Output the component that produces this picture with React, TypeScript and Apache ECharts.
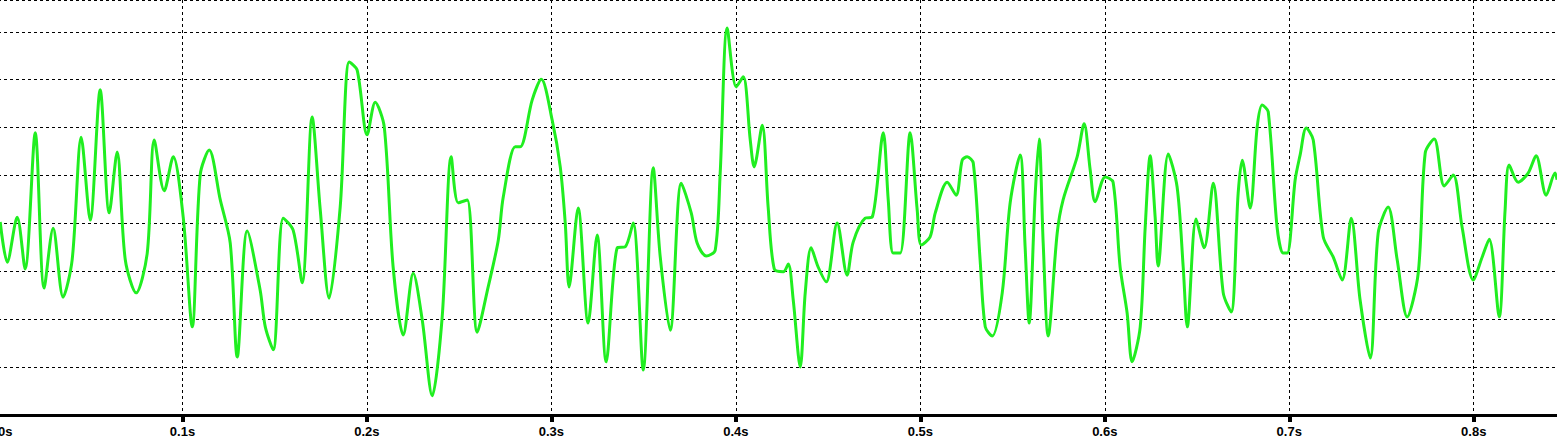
import { useEffect, useRef } from "react";
import * as echarts from "echarts";

// time in milliseconds
const timesMs = [
  1.2, 5.0, 10.4, 14.7, 20.2, 25.0, 29.9, 35.3, 40.2, 45.1,
  50.0, 55.4, 60.3, 64.6, 69.0, 74.9, 80.9, 84.7, 90.1, 95.0,
  100.4, 105.3, 109.6, 114.5, 120.5, 125.9, 129.7, 135.1, 142.1, 144.9,
  149.2, 154.6, 160.0, 164.9, 170.3, 174.7, 179.5, 185.5, 190.4, 194.7,
  200.1, 204.5, 209.4, 214.2, 219.7, 225.1, 230.0, 235.4, 240.8, 245.7,
  249.5, 254.4, 259.8, 265.7, 271.2, 273.9, 280.4, 283.1, 289.6, 294.5,
  300.4, 304.8, 307.5, 309.6, 314.5, 319.9, 324.8, 329.7, 335.7, 340.0,
  344.3, 349.8, 355.2, 359.0, 364.4, 370.4, 375.8, 379.0, 383.9, 388.8,
  391.5, 395.3, 400.2, 404.0, 407.8, 409.9, 414.3, 417.5, 420.8, 425.7,
  428.4, 431.1, 434.9, 437.6, 440.8, 444.6, 449.0, 454.9, 460.3, 463.6,
  470.1, 473.9, 479.9, 482.6, 485.3, 489.1, 494.5, 498.3, 500.5, 505.3,
  508.1, 514.6, 519.4, 522.7, 525.4, 528.7, 532.4, 535.2, 539.0, 544.4,
  548.7, 554.1, 556.8, 559.0, 562.3, 564.4, 566.6, 569.3, 574.2, 577.4,
  585.0, 588.8, 592.1, 594.8, 600.2, 604.5, 608.3, 612.1, 614.8, 619.2,
  621.9, 624.6, 627.3, 628.9, 634.4, 639.2, 642.5, 644.7, 649.5, 653.9,
  658.8, 664.2, 668.5, 672.3, 674.5, 678.8, 682.6, 685.3, 688.6, 693.4,
  696.7, 698.9, 703.2, 705.9, 709.2, 713.0, 718.4, 723.8, 728.7, 733.6,
  738.4, 743.9, 748.2, 753.6, 758.5, 763.9, 769.9, 773.7, 778.6, 784.0,
  788.9, 793.7, 799.7, 804.6, 808.4, 813.8, 817.0, 819.2, 824.1, 829.5,
  833.8, 839.3, 844.1, 845.2,
];

const values = [
  4.03, 3.19, 4.13, 3.05, 5.89, 2.65, 3.90, 2.46, 3.24, 5.80,
  4.07, 6.79, 4.22, 5.49, 3.24, 2.55, 3.38, 5.74, 4.68, 5.39,
  4.13, 1.84, 5.01, 5.53, 4.49, 3.59, 1.21, 3.84, 2.61, 1.84,
  1.36, 4.11, 3.86, 2.76, 6.22, 4.28, 2.44, 4.34, 7.37, 7.20,
  5.85, 6.53, 6.01, 3.09, 1.67, 2.96, 1.98, 0.40, 2.05, 5.39,
  4.43, 4.49, 1.73, 2.67, 3.65, 4.55, 5.60, 5.60, 6.58, 7.01,
  6.16, 5.18, 4.01, 2.67, 4.32, 1.92, 3.76, 1.11, 3.49, 3.51,
  4.01, 0.94, 5.16, 3.30, 1.77, 4.84, 4.22, 3.59, 3.32, 3.44,
  5.05, 8.08, 6.85, 7.06, 5.74, 5.18, 6.05, 4.34, 3.05, 2.99,
  3.15, 2.40, 1.00, 2.55, 3.49, 3.09, 2.78, 4.01, 2.92, 3.61,
  4.11, 4.13, 5.89, 4.49, 3.38, 3.38, 5.89, 4.28, 3.55, 3.72,
  4.22, 4.86, 4.59, 5.32, 5.39, 5.26, 3.24, 1.84, 1.65, 2.55,
  4.43, 5.43, 3.51, 1.92, 4.63, 5.76, 3.59, 1.65, 3.80, 4.49,
  5.39, 6.08, 5.11, 4.45, 4.97, 4.86, 3.09, 2.13, 1.11, 1.84,
  3.92, 5.41, 4.13, 3.11, 5.45, 4.76, 3.09, 1.84, 4.09, 3.49,
  4.84, 2.55, 2.15, 4.63, 5.32, 4.32, 6.01, 6.47, 6.33, 3.92,
  3.38, 3.38, 4.91, 5.43, 5.99, 5.74, 3.72, 3.30, 2.82, 4.11,
  2.40, 1.19, 3.80, 4.34, 3.24, 2.05, 2.96, 5.47, 5.76, 4.78,
  5.01, 3.92, 2.82, 3.30, 3.67, 2.05, 4.28, 5.22, 4.86, 5.05,
  5.41, 4.59, 5.05, 4.91,
];

const tickLabels = ["0s", "0.1s", "0.2s", "0.3s", "0.4s", "0.5s", "0.6s", "0.7s", "0.8s", "0.9s"];

export default function App() {
  const ref = useRef<HTMLDivElement>(null);
  useEffect(() => {
    if (!ref.current) return;
    const chart = echarts.init(ref.current, null, { renderer: "svg" });
    const data = timesMs.map((t, i) => [t, values[i]]);
    chart.setOption({
      animation: false,
      backgroundColor: "#ffffff",
      grid: {
        left: -2,
        right: 41.8,
        top: 0,
        bottom: 24,
        containLabel: false,
        outerBoundsMode: "none",
      },
      xAxis: {
        type: "value",
        min: 0,
        max: 900,
        interval: 100,
        axisLine: { show: true, lineStyle: { color: "#000", width: 3 } },
        axisTick: { show: true, length: 7, lineStyle: { color: "#000", width: 4 } },
        axisLabel: {
          show: true,
          color: "#000",
          fontWeight: "bold",
          fontSize: 13,
          fontFamily: "Liberation Sans, Arial, sans-serif",
          margin: 10,
          showMaxLabel: false,
          alignMinLabel: "left",
          formatter: (v: number) => tickLabels[Math.round(v / 100)] ?? "",
        },
        splitLine: { show: true, lineStyle: { color: "#000", width: 1, type: [3, 3] } },
      },
      yAxis: {
        type: "value",
        min: 0,
        max: 8.664,
        interval: 1,
        axisLine: { show: false },
        axisTick: { show: false },
        axisLabel: { show: false },
        splitLine: { show: true, lineStyle: { color: "#000", width: 1, type: [3, 3] } },
      },
      series: [
        {
          type: "line",
          data,
          showSymbol: false,
          smooth: 0.3,
          lineStyle: { color: "#20ee20", width: 3 },
          itemStyle: { color: "#20ee20" },
        },
      ],
    });
    return () => chart.dispose();
  }, []);
  return (
    <div
      style={{
        position: "fixed",
        left: 0,
        top: 0,
        width: 1557,
        height: 439,
        overflow: "hidden",
        background: "#fff",
      }}
    >
      <div ref={ref} style={{ width: 1700, height: 439 }} />
    </div>
  );
}
